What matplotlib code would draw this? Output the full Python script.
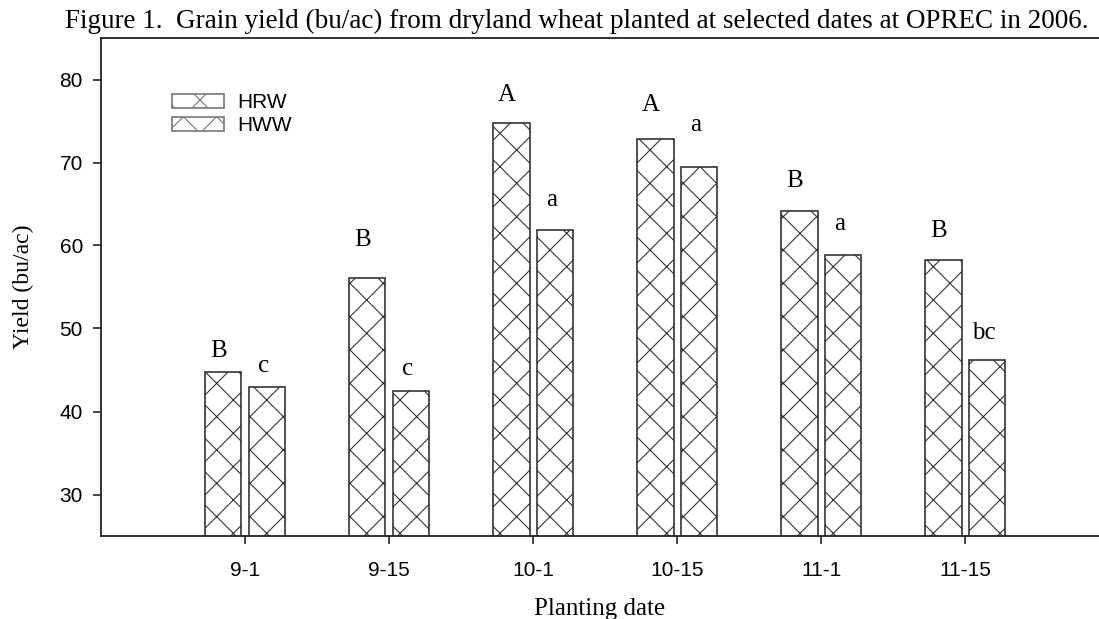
import matplotlib.pyplot as plt
import numpy as np

# planting dates and mean yields (bu/ac)
dates = ['9-1', '9-15', '10-1', '10-15', '11-1', '11-15']
hrw = [44.7, 56.1, 74.8, 72.8, 64.1, 58.2]
hww = [42.9, 42.5, 61.9, 69.4, 58.8, 46.2]
hrw_letters = ['B', 'B', 'A', 'A', 'B', 'B']
hww_letters = ['c', 'c', 'a', 'a', 'a', 'bc']

# how high above each bar the letter sits (layout only)
hrw_dy = [1.85, 3.8, 2.6, 3.4, 3.0, 2.8]
hww_dy = [1.9, 1.85, 2.8, 4.4, 3.1, 2.5]

serif = 'Liberation Serif'
sans = 'Liberation Sans'
plt.rcParams['hatch.linewidth'] = 0.8
plt.rcParams['hatch.color'] = 'black'

fig = plt.figure(figsize=(10.99, 6.19), dpi=100)
ax = fig.add_axes([101/1099, 83/619, 998/1099, 498/619])

x = np.arange(len(dates))
w = 0.255
off = 0.152
ax.bar(x - off, hrw, w, color='white', edgecolor='#333333',
       linewidth=1.2, hatch='x', label='HRW', zorder=2)
ax.bar(x + off, hww, w, color='white', edgecolor='#333333',
       linewidth=1.2, hatch='x', label='HWW', zorder=2)

for i in range(len(dates)):
    ax.text(x[i] - off - 0.03, hrw[i] + hrw_dy[i], hrw_letters[i], ha='center',
            va='baseline', fontsize=18, family=serif, zorder=3)
    ax.text(x[i] + off - 0.02, hww[i] + hww_dy[i], hww_letters[i], ha='center',
            va='baseline', fontsize=18, family=serif, zorder=3)

ax.set_xlim(-1.0, 5.93)
ax.set_ylim(25, 85)
ax.set_xticks(x)
ax.set_xticklabels(dates, family=sans, fontsize=15)
ax.set_yticks([30, 40, 50, 60, 70, 80])
ax.set_yticklabels(['30', '40', '50', '60', '70', '80'], family=sans, fontsize=15)
ax.tick_params(axis='both', direction='out', length=6, width=1.2, color='#222222')
ax.tick_params(axis='y', pad=7)
ax.tick_params(axis='x', pad=12)

ax.spines['right'].set_visible(False)
for s in ['left', 'bottom', 'top']:
    ax.spines[s].set_linewidth(1.3)
    ax.spines[s].set_color('#222222')

ax.set_xlabel('Planting date', family=serif, fontsize=18)
ax.xaxis.set_label_coords(0.5, -0.125)
ax.set_ylabel('Yield (bu/ac)', family=serif, fontsize=17)
ax.yaxis.set_label_coords(-0.067, 0.5)

leg = ax.legend(loc='upper left', bbox_to_anchor=(0.061, 0.91), frameon=False,
                prop={'family': sans, 'size': 15}, handlelength=2.5,
                handleheight=0.7, labelspacing=0.2, handletextpad=0.6,
                borderpad=0)
for p in leg.get_patches():
    p.set_edgecolor('#777777')

fig.text(0.5245, 0.985, 'Figure 1.  Grain yield (bu/ac) from dryland wheat planted at selected dates at OPREC in 2006.',
         ha='center', va='top', family=serif, fontsize=19.5)

fig.savefig('out.png', dpi=100)
